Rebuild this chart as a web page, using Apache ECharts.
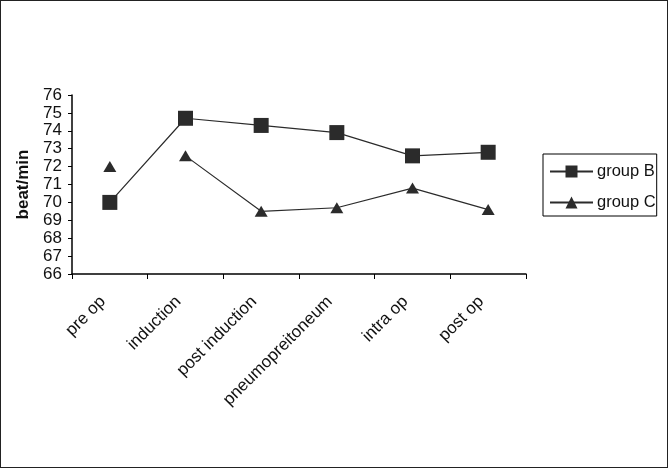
<!DOCTYPE html>
<html lang="en">
<head>
    <meta charset="UTF-8">
    <title>beat/min</title>
    <style>
        html, body { margin: 0; padding: 0; background: #fff; }
        #chart { width: 668px; height: 468px; box-sizing: border-box; border: 1px solid #222; }
    </style>
</head>
<body>
    <div id="chart"></div>
    <script src="https://cdn.jsdelivr.net/npm/echarts@6/dist/echarts.min.js"></script>
    <script>
        // data
        var categories = ['pre op', 'induction', 'post induction', 'pneumopreitoneum', 'intra op', 'post op']
        var groupB = [70.0, 74.7, 74.3, 73.9, 72.6, 72.8]
        // group C: first point is drawn on its own, not joined to the line
        var groupCLine = [null, 72.6, 69.5, 69.7, 70.8, 69.6]
        var groupCFirst = [72.0, null, null, null, null, null]
        var yTicks = { min: 66, max: 76, step: 1 }

        var font = 'Arial, "Liberation Sans", sans-serif'
        var ink = '#2b2b2b'

        var chart = echarts.init(document.getElementById('chart'))
        var option = {
            animation: false,
            textStyle: { fontFamily: font },
            grid: { left: 71, right: 141, top: 94, bottom: 193 },
            legend: {
                data: ['group B', 'group C'],
                orient: 'vertical',
                left: 542,
                top: 153,
                borderColor: '#000',
                borderWidth: 1,
                borderRadius: 0,
                padding: [9, 1, 5, 6],
                itemWidth: 43,
                itemHeight: 15,
                itemGap: 14,
                textStyle: { fontFamily: font, fontSize: 16.5, color: '#111', padding: [0, 0, 0, -1] }
            },
            xAxis: {
                type: 'category',
                data: categories,
                boundaryGap: true,
                axisLine: { lineStyle: { color: '#000', width: 1.5 } },
                axisTick: { show: true, length: 5, lineStyle: { color: '#000' } },
                axisLabel: {
                    rotate: 45, margin: 18, fontSize: 17, color: '#111', fontFamily: font,
                    padding: [0, 10, 0, 0]
                }
            },
            yAxis: {
                type: 'value',
                min: yTicks.min,
                max: yTicks.max,
                interval: yTicks.step,
                name: 'beat/min',
                nameLocation: 'middle',
                nameGap: 40,
                nameTextStyle: { fontSize: 17, fontWeight: 'bold', color: '#111', fontFamily: font },
                splitLine: { show: false },
                axisLine: { show: true, lineStyle: { color: '#000', width: 1.5 } },
                axisTick: { show: true, length: 4, lineStyle: { color: '#000' } },
                axisLabel: { fontSize: 17, color: '#111', margin: 10, fontFamily: font }
            },
            series: [
                {
                    name: 'group B',
                    type: 'line',
                    data: groupB,
                    symbol: 'rect',
                    symbolSize: 15,
                    itemStyle: { color: ink },
                    lineStyle: { color: ink, width: 1.2 }
                },
                {
                    name: 'group C',
                    type: 'line',
                    data: groupCLine,
                    symbol: 'triangle',
                    symbolSize: [13, 11],
                    connectNulls: false,
                    itemStyle: { color: ink },
                    lineStyle: { color: ink, width: 1.2 }
                },
                {
                    name: 'group C first',
                    type: 'scatter',
                    data: groupCFirst,
                    symbol: 'triangle',
                    symbolSize: [13, 11],
                    itemStyle: { color: ink, opacity: 1 }
                }
            ]
        }
        chart.setOption(option)
    </script>
</body>
</html>
